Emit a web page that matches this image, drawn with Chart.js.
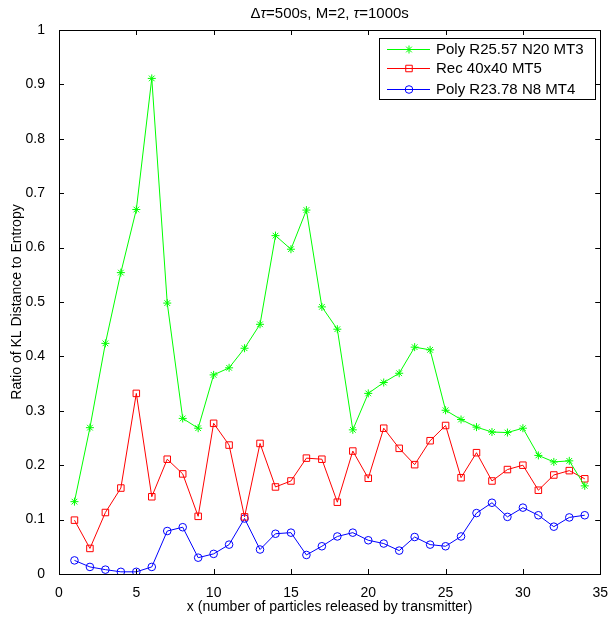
<!DOCTYPE html>
<html>
<head>
<meta charset="utf-8">
<script src="https://cdn.jsdelivr.net/npm/chart.js@4"></script>
<style>
  html, body { margin: 0; padding: 0; background: #fff; }
  #wrap { width: 611px; height: 617px; }
</style>
</head>
<body>
<div id="wrap"><canvas id="myChart" width="611" height="617"></canvas></div>
<script>
const xValues = [1, 2, 3, 4, 5, 6, 7, 8, 9, 10, 11, 12, 13, 14, 15, 16, 17,
  18, 19, 20, 21, 22, 23, 24, 25, 26, 27, 28, 29, 30, 31, 32, 33, 34];

const polyN20 = [0.133, 0.269, 0.424, 0.554, 0.670, 0.911, 0.498, 0.286, 0.268, 0.366,
  0.379, 0.415, 0.459, 0.622, 0.597, 0.669, 0.491, 0.450, 0.265, 0.332,
  0.352, 0.369, 0.417, 0.412, 0.301, 0.284, 0.270, 0.261, 0.260, 0.268,
  0.218, 0.206, 0.208, 0.162];

const rec40 = [0.099, 0.047, 0.113, 0.158, 0.332, 0.142, 0.211, 0.184, 0.106, 0.277,
  0.237, 0.105, 0.240, 0.160, 0.171, 0.213, 0.211, 0.132, 0.226, 0.176,
  0.268, 0.231, 0.201, 0.245, 0.273, 0.177, 0.223, 0.171, 0.192, 0.200,
  0.154, 0.182, 0.190, 0.175];

const polyN8 = [0.025, 0.013, 0.008, 0.004, 0.004, 0.013, 0.079, 0.086, 0.030, 0.037,
  0.054, 0.102, 0.045, 0.074, 0.076, 0.035, 0.051, 0.069, 0.076, 0.062,
  0.056, 0.043, 0.068, 0.054, 0.051, 0.069, 0.112, 0.131, 0.105, 0.122,
  0.108, 0.087, 0.104, 0.108];

const seriesLabels = ['Poly R25.57 N20 MT3', 'Rec 40x40 MT5', 'Poly R23.78 N8 MT4'];
const xTicks = [0, 5, 10, 15, 20, 25, 30, 35];
const yTicks = [0, 0.1, 0.2, 0.3, 0.4, 0.5, 0.6, 0.7, 0.8, 0.9, 1];
const yTickLabels = ['0', '0.1', '0.2', '0.3', '0.4', '0.5', '0.6', '0.7', '0.8', '0.9', '1'];

const FONT = 'Liberation Sans, Arial, Helvetica, sans-serif';

function pts(ys) {
  return ys.map((y, i) => ({ x: xValues[i], y: y }));
}

// matlab-ish box with inward ticks on all four sides
const boxPlugin = {
  id: 'box',
  afterDatasetsDraw(chart) {
    const { ctx, chartArea: a, scales } = chart;
    ctx.save();
    ctx.strokeStyle = '#000';
    ctx.lineWidth = 1;
    const len = 5;
    ctx.beginPath();
    xTicks.forEach(v => {
      const px = Math.round(scales.x.getPixelForValue(v)) + 0.5;
      ctx.moveTo(px, a.bottom); ctx.lineTo(px, a.bottom - len);
      ctx.moveTo(px, a.top); ctx.lineTo(px, a.top + len);
    });
    yTicks.forEach(v => {
      const py = Math.round(scales.y.getPixelForValue(v)) + 0.5;
      ctx.moveTo(a.left, py); ctx.lineTo(a.left + len, py);
      ctx.moveTo(a.right, py); ctx.lineTo(a.right - len, py);
    });
    ctx.stroke();
    ctx.strokeRect(Math.round(a.left) + 0.5, Math.round(a.top) + 0.5,
      Math.round(a.right - a.left), Math.round(a.bottom - a.top));
    ctx.restore();
  }
};

// title with italic tau
const titlePlugin = {
  id: 'mtitle',
  afterDraw(chart) {
    const { ctx, chartArea: a } = chart;
    const parts = [
      ['', 'Δ'], ['italic ', 'τ'], ['', '=500s, M=2, '], ['italic ', 'τ'], ['', '=1000s']
    ];
    ctx.save();
    ctx.fillStyle = '#000';
    ctx.textBaseline = 'alphabetic';
    let w = 0;
    parts.forEach(p => { ctx.font = p[0] + '15px ' + FONT; w += ctx.measureText(p[1]).width; });
    let x = (a.left + a.right) / 2 - w / 2;
    parts.forEach(p => {
      ctx.font = p[0] + '15px ' + FONT;
      ctx.fillText(p[1], x, 18);
      x += ctx.measureText(p[1]).width;
    });
    ctx.restore();
  }
};

// legend box in the top right, line + marker samples
const legendPlugin = {
  id: 'mlegend',
  afterDraw(chart) {
    const { ctx } = chart;
    const bx = 379, by = 38, bw = 216, bh = 61;
    ctx.save();
    ctx.fillStyle = '#fff';
    ctx.fillRect(bx, by, bw, bh);
    ctx.strokeStyle = '#000';
    ctx.lineWidth = 1;
    ctx.strokeRect(bx + 0.5, by + 0.5, bw, bh);
    const rows = [49, 68, 89];
    chart.data.datasets.forEach((ds, i) => {
      const y = rows[i];
      ctx.strokeStyle = ds.borderColor;
      ctx.lineWidth = 1;
      ctx.beginPath();
      ctx.moveTo(387, y + 0.5); ctx.lineTo(430, y + 0.5);
      ctx.stroke();
      ctx.fillStyle = ds.pointBackgroundColor;
      ctx.strokeStyle = ds.pointBorderColor;
      Chart.helpers.drawPoint(ctx, {
        pointStyle: ds.pointStyle, radius: ds.pointRadius, borderWidth: 1
      }, 409, y + 0.5);
      ctx.fillStyle = '#000';
      ctx.font = '15px ' + FONT;
      ctx.textBaseline = 'middle';
      ctx.fillText(ds.label, 436, y + 1);
    });
    ctx.restore();
  }
};

const ctx = document.getElementById('myChart');

new Chart(ctx, {
  type: 'line',
  data: {
    datasets: [{
      label: seriesLabels[0],
      data: pts(polyN20),
      borderColor: '#00ff00',
      pointBorderColor: '#00ff00',
      pointBackgroundColor: '#00ff00',
      pointStyle: 'star',
      pointRadius: 4,
      borderWidth: 1
    }, {
      label: seriesLabels[1],
      data: pts(rec40),
      borderColor: '#ff0000',
      pointBorderColor: '#ff0000',
      pointBackgroundColor: 'rgba(0,0,0,0)',
      pointStyle: 'rect',
      pointRadius: 4.6,
      borderWidth: 1
    }, {
      label: seriesLabels[2],
      data: pts(polyN8),
      borderColor: '#0000ff',
      pointBorderColor: '#0000ff',
      pointBackgroundColor: 'rgba(0,0,0,0)',
      pointStyle: 'circle',
      pointRadius: 3.8,
      borderWidth: 1
    }]
  },
  options: {
    responsive: false,
    animation: false,
    layout: { padding: { top: 30, right: 9, left: 0, bottom: 0 } },
    plugins: {
      legend: { display: false },
      title: { display: false },
      tooltip: { enabled: false }
    },
    elements: { line: { tension: 0 }, point: { pointBorderWidth: 1 } },
    scales: {
      x: {
        type: 'linear',
        min: 0,
        max: 35,
        afterBuildTicks: s => { s.ticks = xTicks.map(v => ({ value: v })); },
        afterFit: s => { s.height = 43; },
        grid: { display: false },
        border: { display: false },
        ticks: { color: '#000', font: { family: FONT, size: 14 }, padding: 3, maxRotation: 0 },
        title: {
          display: true,
          text: 'x (number of particles released by transmitter)',
          color: '#000',
          font: { family: FONT, size: 14 },
          padding: { top: 0, bottom: 1 }
        }
      },
      y: {
        min: 0,
        max: 1,
        afterBuildTicks: s => { s.ticks = yTicks.map(v => ({ value: v })); },
        afterFit: s => { s.width = 59; },
        grid: { display: false },
        border: { display: false },
        ticks: {
          color: '#000',
          font: { family: FONT, size: 14 },
          padding: 6,
          callback: (v, i) => yTickLabels[i]
        },
        title: {
          display: true,
          text: 'Ratio of KL Distance to Entropy',
          color: '#000',
          font: { family: FONT, size: 14 },
          padding: { top: 9, bottom: 0 }
        }
      }
    }
  },
  plugins: [boxPlugin, titlePlugin, legendPlugin]
});
</script>
</body>
</html>
